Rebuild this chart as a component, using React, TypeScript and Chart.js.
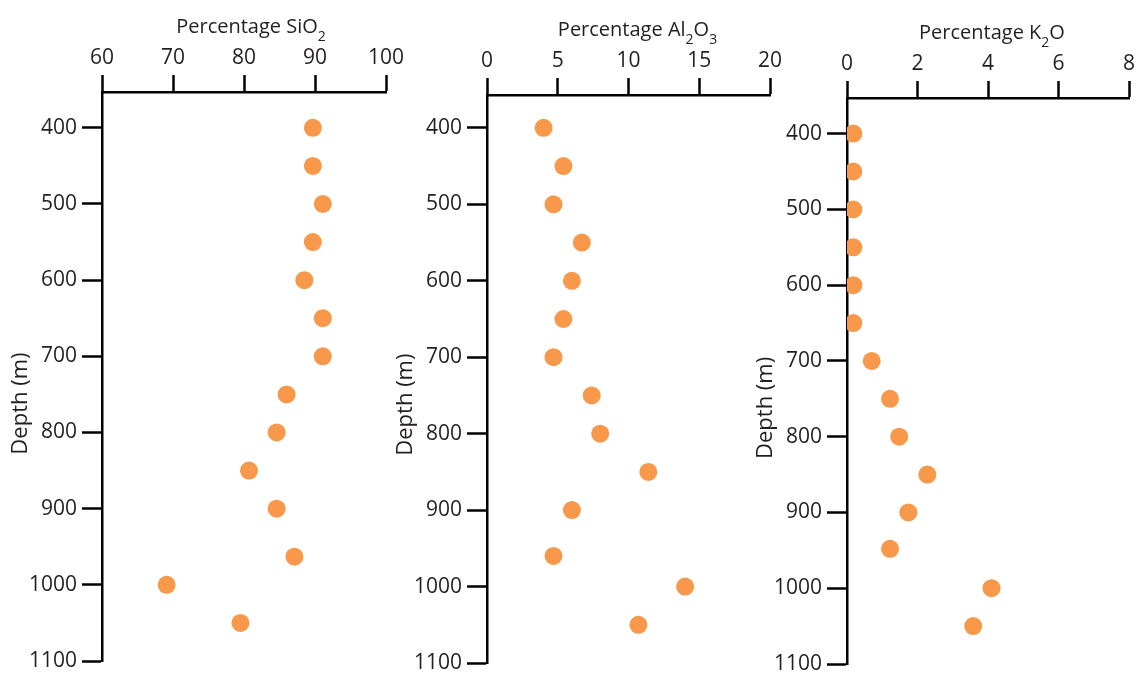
import React, { useEffect, useRef } from 'react';
import { Chart, registerables } from 'chart.js';

Chart.register(...registerables);

// ---------- data ----------
const depthTicks = [400, 500, 600, 700, 800, 900, 1000, 1100];

const sio2Ticks = [60, 70, 80, 90, 100];
const depthsSiO2 = [400, 450, 500, 550, 600, 650, 700, 750, 800, 850, 900, 963, 1000, 1050];
const sio2 = [89.7, 89.7, 91.1, 89.7, 88.5, 91.1, 91.1, 86.0, 84.6, 80.7, 84.6, 87.1, 69.1, 79.5];

const al2o3Ticks = [0, 5, 10, 15, 20];
const depthsAl2O3 = [400, 450, 500, 550, 600, 650, 700, 750, 800, 850, 900, 960, 1000, 1050];
const al2o3 = [4.0, 5.4, 4.7, 6.7, 6.0, 5.4, 4.7, 7.4, 8.0, 11.4, 6.0, 4.7, 14.0, 10.7];

const k2oTicks = [0, 2, 4, 6, 8];
const depthsK2O = [400, 450, 500, 550, 600, 650, 700, 750, 800, 850, 900, 948, 1000, 1050];
const k2o = [0.18, 0.18, 0.18, 0.18, 0.18, 0.18, 0.70, 1.22, 1.48, 2.28, 1.74, 1.22, 4.10, 3.58];

// ---------- styling ----------
const W = 1138;
const H = 673;
const FONT = "'Open Sans', 'Noto Sans', sans-serif";
const TEXT = '#231f20';
const DOT = '#f7984a';
const TICK_SIZE = 21;
const LINE_W = 2.5;

type Seg = { t: string; sub?: boolean };
type Panel = {
  title: Seg[];
  xs: number[];
  ys: number[];
  xTicks: number[];
  xMin: number;
  xMax: number;
  yMin: number;
  area: { left: number; right: number; top: number; bottom: number };
  titleShift: number;
};

const panels: Panel[] = [
  {
    title: [{ t: 'Percentage SiO' }, { t: '2', sub: true }],
    xs: sio2, ys: depthsSiO2, xTicks: sio2Ticks, xMin: 60, xMax: 100, yMin: 353,
    area: { left: 102, right: 386, top: 92, bottom: 661 }, titleShift: 7,
  },
  {
    title: [{ t: 'Percentage Al' }, { t: '2', sub: true }, { t: 'O' }, { t: '3', sub: true }],
    xs: al2o3, ys: depthsAl2O3, xTicks: al2o3Ticks, xMin: 0, xMax: 20, yMin: 357,
    area: { left: 487, right: 770, top: 95, bottom: 663 }, titleShift: 9,
  },
  {
    title: [{ t: 'Percentage K' }, { t: '2', sub: true }, { t: 'O' }],
    xs: k2o, ys: depthsK2O, xTicks: k2oTicks, xMin: 0, xMax: 8, yMin: 353,
    area: { left: 847, right: 1130, top: 98, bottom: 669 }, titleShift: 4,
  },
];

const Y_AXIS_W = 90;
const X_AXIS_H = 70;

function zeroPad(s: any) {
  s.paddingLeft = 0;
  s.paddingRight = 0;
  s.paddingTop = 0;
  s.paddingBottom = 0;
}

function makeChart(canvas: HTMLCanvasElement, p: Panel) {
  const titlePlugin = {
    id: 'panelTitles',
    afterDraw(chart: any) {
      const { ctx, chartArea, scales } = chart;
      ctx.save();
      ctx.fillStyle = TEXT;
      const mainFont = '20px ' + FONT;
      const subFont = '14px ' + FONT;
      let total = 0;
      for (const s of p.title) {
        ctx.font = s.sub ? subFont : mainFont;
        total += ctx.measureText(s.t).width;
      }
      let x = (chartArea.left + chartArea.right) / 2 + p.titleShift - total / 2;
      const base = chartArea.top - 59;
      ctx.textAlign = 'left';
      ctx.textBaseline = 'alphabetic';
      for (const s of p.title) {
        ctx.font = s.sub ? subFont : mainFont;
        ctx.fillText(s.t, x, s.sub ? base + 8 : base);
        x += ctx.measureText(s.t).width;
      }
      ctx.font = '22px ' + FONT;
      ctx.translate(chartArea.left - 81, scales.y.getPixelForValue(762));
      ctx.rotate(-Math.PI / 2);
      ctx.textAlign = 'center';
      ctx.textBaseline = 'middle';
      ctx.fillText('Depth (m)', 0, 0);
      ctx.restore();
    },
  };

  return new Chart(canvas, {
    type: 'scatter',
    data: {
      datasets: [
        {
          data: p.xs.map((v, i) => ({ x: v, y: p.ys[i] })),
          backgroundColor: DOT,
          borderWidth: 0,
          pointRadius: 9,
          pointHoverRadius: 9,
        },
      ],
    },
    options: {
      responsive: false,
      maintainAspectRatio: false,
      animation: false,
      events: [],
      layout: {
        padding: {
          left: p.area.left - Y_AXIS_W,
          top: p.area.top - X_AXIS_H,
          right: W - p.area.right,
          bottom: H - p.area.bottom,
        },
      },
      plugins: {
        legend: { display: false },
        tooltip: { enabled: false },
      },
      scales: {
        x: {
          type: 'linear',
          position: 'top',
          min: p.xMin,
          max: p.xMax,
          afterBuildTicks: (s: any) => {
            s.ticks = p.xTicks.map((v) => ({ value: v }));
          },
          afterFit: (s: any) => {
            s.height = X_AXIS_H;
            zeroPad(s);
          },
          ticks: {
            color: TEXT,
            font: { family: FONT, size: TICK_SIZE },
            padding: 4,
            maxRotation: 0,
            autoSkip: false,
            callback: (v: any) => String(v),
          },
          grid: {
            drawOnChartArea: false,
            drawTicks: true,
            tickLength: 17,
            tickWidth: LINE_W,
            tickColor: '#000',
            color: '#000',
          },
          border: { display: true, color: '#000', width: LINE_W },
        },
        y: {
          type: 'linear',
          position: 'left',
          reverse: true,
          min: p.yMin,
          max: 1100,
          afterBuildTicks: (s: any) => {
            s.ticks = depthTicks.map((v) => ({ value: v }));
          },
          afterFit: (s: any) => {
            s.width = Y_AXIS_W;
            zeroPad(s);
          },
          ticks: {
            color: TEXT,
            font: { family: FONT, size: TICK_SIZE },
            padding: 5,
            autoSkip: false,
            callback: (v: any) => String(v),
          },
          grid: {
            drawOnChartArea: false,
            drawTicks: true,
            tickLength: 20,
            tickWidth: LINE_W,
            tickColor: '#000',
            color: '#000',
          },
          border: { display: true, color: '#000', width: LINE_W },
        },
      },
    },
    plugins: [titlePlugin],
  } as any);
}

export default function App() {
  const refs = [useRef<HTMLCanvasElement>(null), useRef<HTMLCanvasElement>(null), useRef<HTMLCanvasElement>(null)];

  useEffect(() => {
    const charts = panels.map((p, i) => makeChart(refs[i].current as HTMLCanvasElement, p));
    return () => charts.forEach((c) => c.destroy());
  }, []);

  return (
    <div style={{ position: 'fixed', left: 0, top: 0, width: W, height: H, background: '#fff' }}>
      {panels.map((_, i) => (
        <canvas
          key={i}
          ref={refs[i]}
          width={W}
          height={H}
          style={{ position: 'absolute', left: 0, top: 0, width: W, height: H }}
        />
      ))}
    </div>
  );
}
